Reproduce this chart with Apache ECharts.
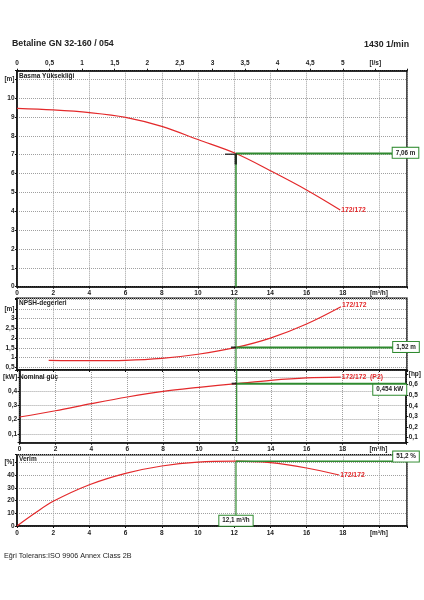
<!DOCTYPE html>
<html><head><meta charset="utf-8">
<script src="https://cdn.jsdelivr.net/npm/echarts@6/dist/echarts.min.js"></script>
<style>html,body{margin:0;padding:0;background:#fff}#c{width:424px;height:600px}</style>
</head><body><div id="c"></div>
<script>
// ---- texts ----
const titleText = 'Betaline GN 32-160 / 054';
const speedText = '1430 1/min';
const footerText = 'Eğri Tolerans:ISO 9906 Annex Class 2B';
const panelTitles = ['Basma Yüksekliği', 'NPSH-degerleri', 'Nominal güç', 'Verim'];
const curveName = '172/172';
const powerCurveName = '172/172  (P2)';

// ---- curves (flow in m³/h) ----
const qHead = [0, 2, 4, 6, 8, 10, 12.1, 14, 16, 17.86];
const headVals = [9.45, 9.37, 9.23, 8.98, 8.5, 7.8, 7.06, 6.15, 5.13, 4.07];
const qNpsh = [1.75, 4, 6, 8, 10, 12.1, 14, 16, 17.9];
const npshVals = [0.86, 0.84, 0.86, 0.96, 1.17, 1.52, 2.0, 2.73, 3.62];
const qPower = [0, 2, 4, 6, 8, 10, 12.1, 14, 16, 17.9];
const powerVals = [0.219, 0.263, 0.313, 0.36, 0.40, 0.428, 0.454, 0.477, 0.494, 0.50];
const qEff = [0, 1, 2, 4, 6, 8, 10, 12.1, 14, 16, 17.8];
const effVals = [0, 10.2, 19.5, 32.6, 41.6, 47.4, 50.5, 51.2, 50.0, 45.8, 40.3];

// ---- operating point ----
const opQ = 12.1, opHead = 7.06, opNpsh = 1.52, opPower = 0.454, opEff = 51.2;
const opLabels = ['7,06 m', '1,52 m', '0,454 kW', '51,2 %', '12,1 m³/h'];

// ---- axis ranges ----
const qMax = 21.55;
const lsPerM3h = 1 / 3.6;
const headRange = [0, 11.45];
const npshRange = [0.36, 4.05];
const powerRange = [0.038, 0.55];
const kwPerHp = 0.7457;
const effRange = [0, 56.3];

// ---- tick labels ----
const qTickValues = [0, 2, 4, 6, 8, 10, 12, 14, 16, 18, 20];
const qTickLabels = ['0', '2', '4', '6', '8', '10', '12', '14', '16', '18', '[m³/h]'];
const lsTickValues = [0, 0.5, 1, 1.5, 2, 2.5, 3, 3.5, 4, 4.5, 5, 5.5];
const lsTickLabels = ['0', '0,5', '1', '1,5', '2', '2,5', '3', '3,5', '4', '4,5', '5', '[l/s]'];
const headTickValues = [0, 1, 2, 3, 4, 5, 6, 7, 8, 9, 10, 11];
const headTickLabels = ['0', '1', '2', '3', '4', '5', '6', '7', '8', '9', '10', '[m]'];
const npshTickValues = [0.5, 1, 1.5, 2, 2.5, 3, 3.5];
const npshTickLabels = ['0,5', '1', '1,5', '2', '2,5', '3', '[m]'];
const kwTickValues = [0.1, 0.2, 0.3, 0.4, 0.5];
const kwTickLabels = ['0,1', '0,2', '0,3', '0,4', '[kW]'];
const hpTickValues = [0.1, 0.2, 0.3, 0.4, 0.5, 0.6, 0.7];
const hpTickLabels = ['0,1', '0,2', '0,3', '0,4', '0,5', '0,6', '[hp]'];
const effTickValues = [0, 10, 20, 30, 40, 50];
const effTickLabels = ['0', '10', '20', '30', '40', '[%]'];

// ---- styling ----
const FONT = '"Liberation Sans", Arial, sans-serif';
const RED = '#e3292b';
const GREEN = '#2f8a2f';
const GRIDC = '#a0a0a0';
const pairs = (xs, ys) => xs.map((x, i) => [x, ys[i]]);
const fmt = (vals, labs) => v => { const i = vals.findIndex(t => Math.abs(t - v) < 1e-6); return i < 0 ? '' : labs[i]; };
const lbl = { fontSize: 6.5, fontWeight: 'bold', color: '#222', fontFamily: FONT };
const axLine = { show: true, lineStyle: { color: '#111', width: 1.5 } };
const tick = { show: true, length: 2, lineStyle: { color: '#111', width: 1 } };
const split = { show: true, lineStyle: { type: 'dotted', color: GRIDC, width: 1 } };

function xAx(gridIndex, showLabels) {
  return { type: 'value', gridIndex, min: 0, max: qMax, interval: 2,
    axisLine: axLine, axisTick: tick, splitLine: split,
    axisLabel: Object.assign({}, lbl, { show: showLabels, margin: 3.5, formatter: fmt(qTickValues, qTickLabels) }) };
}
function yAx(gridIndex, range, vals, labs, extra) {
  return Object.assign({ type: 'value', gridIndex, min: range[0], max: range[1],
    axisLine: axLine, axisTick: tick, splitLine: split,
    axisLabel: Object.assign({}, lbl, { margin: 2.5, formatter: fmt(vals, labs) }) }, extra || {});
}
const boxLabel = (text, extra) => Object.assign({ show: true, formatter: text, position: 'inside',
  backgroundColor: '#fff', borderColor: GREEN, borderWidth: 1, padding: [2, 3],
  fontSize: 6.3, fontWeight: 'bold', color: '#222', fontFamily: FONT }, extra);
const greenLine = (xi, yi, data, w) => ({ type: 'line', xAxisIndex: xi, yAxisIndex: yi, data,
  symbol: 'circle', symbolSize: 0.01, itemStyle: { color: 'transparent' }, silent: true, z: 4,
  lineStyle: { color: GREEN, width: w }, animation: false });
const curve = (xi, yi, data, name, endOffset) => ({ type: 'line', xAxisIndex: xi, yAxisIndex: yi, data,
  smooth: 0.35, showSymbol: false, symbol: 'none', lineStyle: { color: RED, width: 1.2 }, z: 3, animation: false,
  endLabel: { show: true, formatter: name, color: RED, fontSize: 6.8, fontWeight: 'bold', fontFamily: FONT, distance: 1, offset: endOffset || [0, 0] } });

const titleStyle = (size, weight) => ({ fontSize: size, fontWeight: weight, fontFamily: FONT, color: '#222' });

const option = {
  backgroundColor: '#fff',
  animation: false,
  title: [
    { text: titleText, left: 12, top: 39, padding: 0, textStyle: titleStyle(8.8, 'bold') },
    { text: speedText, right: 15, top: 40, padding: 0, textStyle: titleStyle(8.8, 'bold') },
    { text: panelTitles[0], left: 19, top: 72.5, padding: 0, textStyle: titleStyle(6.5, 'bold') },
    { text: panelTitles[1], left: 19, top: 299.5, padding: 0, textStyle: titleStyle(6.5, 'bold') },
    { text: panelTitles[2], left: 19, top: 373.5, padding: 0, textStyle: titleStyle(6.5, 'bold') },
    { text: panelTitles[3], left: 19, top: 455.5, padding: 0, textStyle: titleStyle(6.5, 'bold') },
    { text: footerText, left: 4, top: 553, padding: 0, textStyle: titleStyle(7.2, 'normal') }
  ],
  grid: [
    { left: 17, top: 70.7, width: 390, height: 216, show: true, borderColor: '#111', borderWidth: 1.5 },
    { left: 17, top: 298.3, width: 390, height: 71.7, show: true, borderColor: '#111', borderWidth: 1.5 },
    { left: 17, top: 370, width: 390, height: 72.7, show: true, borderColor: '#111', borderWidth: 1.5 },
    { left: 17, top: 454.7, width: 390, height: 71.3, show: true, borderColor: '#111', borderWidth: 1.5 }
  ],
  xAxis: [
    xAx(0, true),
    { type: 'value', gridIndex: 0, position: 'top', min: 0, max: qMax * lsPerM3h, interval: 0.5,
      axisLine: axLine, axisTick: tick, splitLine: { show: false },
      axisLabel: Object.assign({}, lbl, { margin: 3.5, formatter: fmt(lsTickValues, lsTickLabels) }) },
    xAx(1, false),
    xAx(2, true),
    xAx(3, true)
  ],
  yAxis: [
    yAx(0, headRange, headTickValues, headTickLabels, { interval: 1 }),
    yAx(1, npshRange, npshTickValues, npshTickLabels, { splitNumber: 7 }),
    yAx(2, powerRange, kwTickValues, kwTickLabels, { splitNumber: 5 }),
    yAx(2, [powerRange[0] / kwPerHp, powerRange[1] / kwPerHp], hpTickValues, hpTickLabels,
      { position: 'right', splitNumber: 7, splitLine: { show: false } }),
    yAx(3, effRange, effTickValues, effTickLabels, { interval: 10 })
  ],
  series: [
    // green operating-point lines
    greenLine(0, 0, [[opQ, opHead], { value: [qMax, opHead], label: boxLabel(opLabels[0], { offset: [-1.5, -0.7] }) }], 2),
    greenLine(0, 0, [[opQ, opHead], [opQ, headRange[0]]], 1.5),
    greenLine(2, 1, [[opQ, opNpsh], { value: [qMax, opNpsh], label: boxLabel(opLabels[1], { offset: [-1, -0.5] }) }], 2),
    greenLine(2, 1, [[opQ, npshRange[0]], [opQ, npshRange[1]]], 1.2),
    greenLine(3, 2, [[opQ, opPower], { value: [qMax, opPower], label: boxLabel(opLabels[2], { position: 'left', distance: 0, offset: [0, 6] }) }], 2),
    greenLine(3, 2, [[opQ, powerRange[0]], [opQ, powerRange[1]]], 1.2),
    greenLine(4, 4, [[opQ, opEff], { value: [qMax, opEff], label: boxLabel(opLabels[3], { offset: [-1, -4.6] }) }], 1.5),
    greenLine(4, 4, [{ value: [opQ, effRange[0]], label: boxLabel(opLabels[4], { offset: [0, -5.3] }) }, [opQ, opEff]], 1.2),
    // red curves
    curve(0, 0, pairs(qHead, headVals), curveName),
    curve(2, 1, pairs(qNpsh, npshVals), curveName, [0, -2]),
    curve(3, 2, pairs(qPower, powerVals), powerCurveName),
    curve(4, 4, pairs(qEff, effVals), curveName),
    // black operating point markers
    { type: 'scatter', xAxisIndex: 0, yAxisIndex: 0, data: [[opQ, opHead]], silent: true, z: 6,
      symbol: 'path://M0,0H12V11H9.6V1.6H0Z', symbolSize: [12, 11], symbolOffset: [-5, 5.5],
      itemStyle: { color: '#111' } },
    { type: 'scatter', xAxisIndex: 2, yAxisIndex: 1, data: [[opQ, opNpsh]], silent: true, z: 6,
      symbol: 'rect', symbolSize: [5, 2], symbolOffset: [-2.5, 0], itemStyle: { color: '#111' } },
    { type: 'scatter', xAxisIndex: 3, yAxisIndex: 2, data: [[opQ, opPower]], silent: true, z: 6,
      symbol: 'rect', symbolSize: [5, 2], symbolOffset: [-2.5, 0], itemStyle: { color: '#111' } }
  ]
};
const chart = echarts.init(document.getElementById('c'));
chart.setOption(option);
</script>
</body></html>
